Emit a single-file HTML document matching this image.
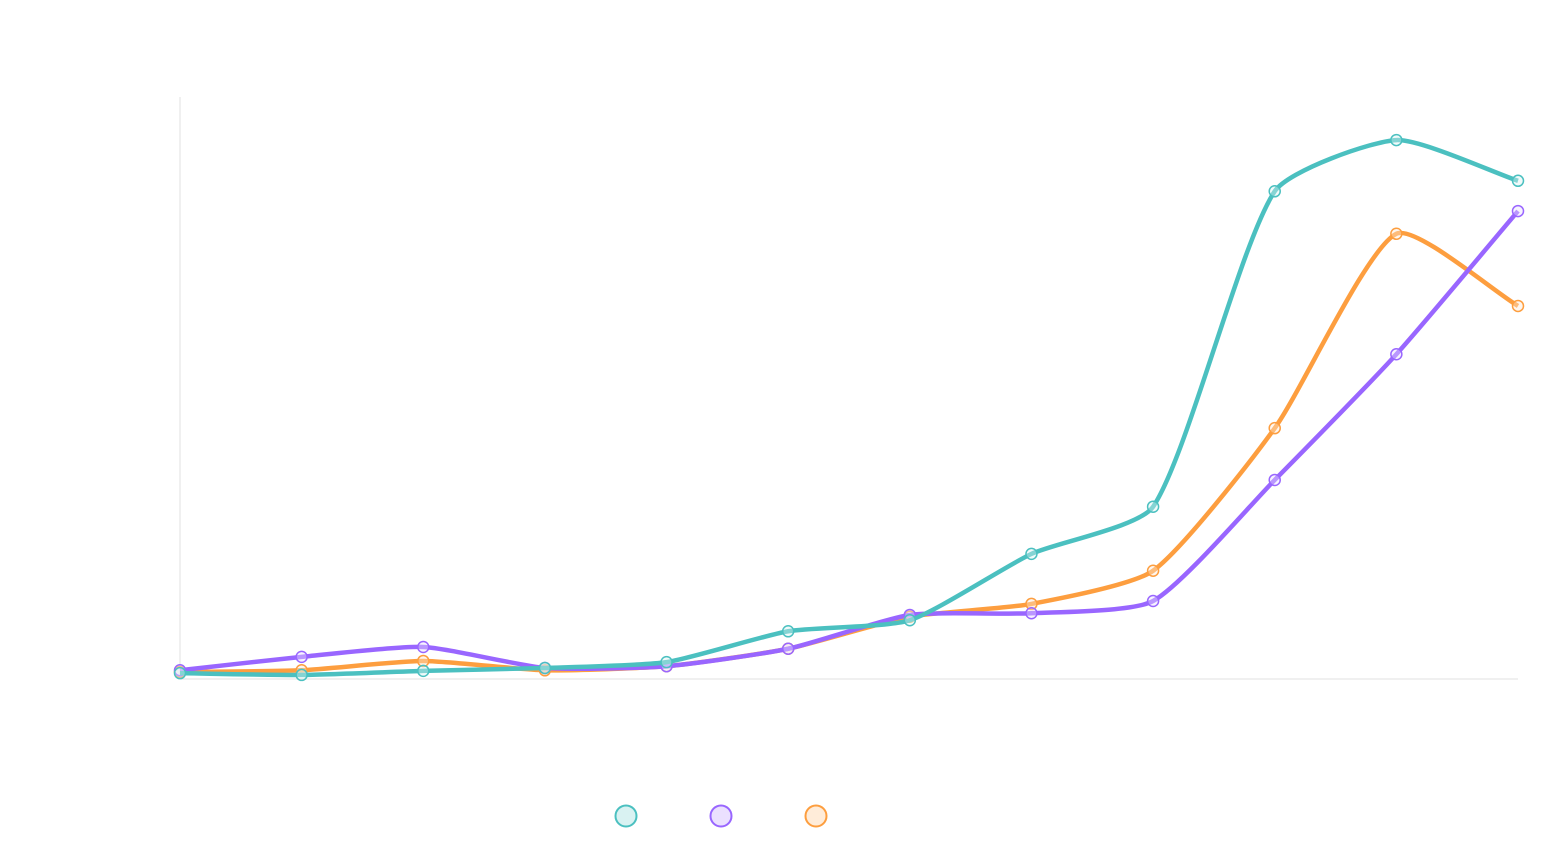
<!DOCTYPE html>
<html><head><meta charset="utf-8"><style>
html,body{margin:0;padding:0;background:#fff;}
svg{display:block;font-family:"Liberation Sans",sans-serif;}
</style></head><body>
<svg id="chart" width="1564" height="850"></svg>
<script>
const categories=[1,2,3,4,5,6,7,8,9,10,11,12];
const tealValues=[1.0,0.7,1.4,1.9,2.9,8.2,10.1,21.5,29.6,83.8,92.6,85.6];
const purpleValues=[1.5,3.8,5.5,1.9,2.2,5.2,11.0,11.3,13.4,34.2,55.8,80.4];
const orangeValues=[1.2,1.5,3.1,1.5,2.2,5.2,10.7,12.9,18.6,43.1,76.5,64.1];

const NS='http://www.w3.org/2000/svg';
const svg=document.getElementById('chart');
const x0=180,x1=1518,yBase=679,yTop=97,yMax=100;
const xs=i=>x0+(x1-x0)*i/(categories.length-1);
const ys=v=>yBase-(yBase-yTop)*v/yMax;
function el(t,a){const e=document.createElementNS(NS,t);for(const k in a)e.setAttribute(k,a[k]);svg.appendChild(e);return e;}

const ax=el('line',{x1:x0,y1:yTop,x2:x0,y2:yBase,stroke:'#e0e0e0','stroke-width':1});


const bx=el('line',{x1:x0,y1:yBase,x2:x1,y2:yBase,stroke:'#e0e0e0','stroke-width':1});



function splinePath(px,py,t){
  const n=px.length,cp=[];
  for(let i=0;i<n;i++){
    const pi=i>0?i-1:i,ni=i<n-1?i+1:i;
    const d01=Math.hypot(px[i]-px[pi],py[i]-py[pi]);
    const d12=Math.hypot(px[ni]-px[i],py[ni]-py[i]);
    let s01=d01/(d01+d12),s12=d12/(d01+d12);
    if(isNaN(s01))s01=0;if(isNaN(s12))s12=0;
    const fa=t*s01,fb=t*s12;
    cp.push({px:px[i]-fa*(px[ni]-px[pi]),py:py[i]-fa*(py[ni]-py[pi]),nx:px[i]+fb*(px[ni]-px[pi]),ny:py[i]+fb*(py[ni]-py[pi])});
  }
  let s=`M${px[0]},${py[0]}`;
  for(let i=0;i<n-1;i++){
    s+=`C${cp[i].nx},${cp[i].ny} ${cp[i+1].px},${cp[i+1].py} ${px[i+1]},${py[i+1]}`;
  }
  return s;
}
const series=[
  {vals:orangeValues,c:'#fd9e3f',f:'#fde9d6',name:'orange-series'},
  {vals:purpleValues,c:'#9966ff',f:'#ebe0ff',name:'purple-series'},
  {vals:tealValues,c:'#4bc0c0',f:'#dbf2f2',name:'teal-series'}
];
series.forEach(s=>{
  const px=s.vals.map((v,i)=>xs(i)),py=s.vals.map(ys);
  const p=el('path',{d:splinePath(px,py,0.2),fill:'none',stroke:s.c,'stroke-width':4.5,'stroke-linejoin':'round'});
  
  
  s.vals.forEach((v,i)=>{
    const c=el('circle',{cx:xs(i),cy:ys(v),r:5.5,fill:s.f,'fill-opacity':0.4,stroke:s.c,'stroke-width':1.5});
    
    
  });
});
const legend=[{c:'#4bc0c0',f:'#d9f2f2',n:'legend-teal'},{c:'#9966ff',f:'#ebe0ff',n:'legend-purple'},{c:'#fd9e3f',f:'#ffecd9',n:'legend-orange'}];
legend.forEach((l,i)=>{
  const c=el('circle',{cx:626+95*i,cy:816,r:10.5,fill:l.f,stroke:l.c,'stroke-width':2});
  
  
});
</script>
</body></html>
